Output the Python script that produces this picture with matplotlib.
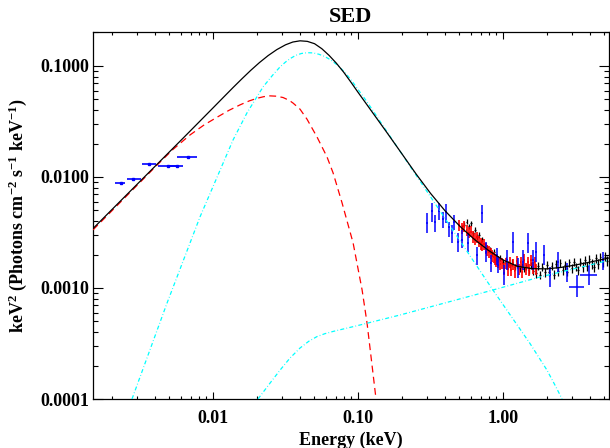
import matplotlib
matplotlib.use("Agg")
import matplotlib.pyplot as plt
from matplotlib.ticker import FixedLocator, FixedFormatter, NullFormatter, LogLocator

# ---------------- data ----------------
# total model (energy keV, E^2 F)
tot_e = [0.001486, 0.002512, 0.003981, 0.006310, 0.01000, 0.011749, 0.013740, 0.015849,
         0.018197, 0.020893, 0.023988, 0.027542, 0.031623, 0.035481, 0.039811, 0.044668,
         0.050119, 0.056234, 0.063096, 0.070795, 0.079433, 0.089125, 0.1000, 0.125893,
         0.158489, 0.199526, 0.251189, 0.316228, 0.398107, 0.504661, 0.630957, 0.794328,
         1.0, 1.258925, 1.584893, 1.995262, 2.511886, 3.162278, 3.981072, 5.382698]
tot_f = [0.003428, 0.006823, 0.012474, 0.022803, 0.041879, 0.051880, 0.063826, 0.076736,
         0.091201, 0.107152, 0.123880, 0.140281, 0.154882, 0.164059, 0.168267, 0.166341,
         0.158489, 0.142889, 0.124451, 0.105925, 0.088105, 0.071614, 0.057810, 0.038019,
         0.025003, 0.016331, 0.010641, 0.007112, 0.004955, 0.003589, 0.002754, 0.002178,
         0.001786, 0.001567, 0.001493, 0.001486, 0.001531, 0.001611, 0.001710, 0.001862]

# red dashed component
bb_e = [0.001486, 0.002286, 0.003141, 0.004111, 0.005297, 0.006934, 0.008710, 0.010666,
        0.012882, 0.015346, 0.017783, 0.020091, 0.022387, 0.024717, 0.027542, 0.030409,
        0.033497, 0.035645, 0.039811, 0.044463, 0.052119, 0.061094, 0.067298, 0.077625,
        0.092470, 0.106660, 0.115345, 0.133045]
bb_f = [0.003334, 0.005888, 0.008954, 0.012794, 0.017701, 0.023878, 0.029512, 0.034514,
        0.039811, 0.044566, 0.048417, 0.051050, 0.052845, 0.053703, 0.053333, 0.051880,
        0.048978, 0.046238, 0.040738, 0.033113, 0.022909, 0.015136, 0.010864, 0.005821,
        0.002541, 0.000959, 0.000484, 0.000100]

# cyan dash-dot thermal component
disk_e = [0.002761, 0.004819, 0.008128, 0.013740, 0.017140, 0.022131, 0.025704, 0.028973,
          0.031623, 0.033963, 0.037154, 0.040738, 0.044668, 0.048978, 0.053703, 0.058884,
          0.064565, 0.070795, 0.075162, 0.083176, 0.091201, 0.098401, 0.112202, 0.125893,
          0.141906, 0.239332, 0.328852, 0.481948, 0.693426, 0.853168, 1.172195, 1.534617,
          2.009093, 2.290868, 2.553541]
disk_f = [0.000100, 0.000733, 0.004365, 0.021528, 0.037757, 0.064714, 0.082224, 0.097949,
          0.108393, 0.116145, 0.124451, 0.129420, 0.131522, 0.130918, 0.127350, 0.121619,
          0.113501, 0.103514, 0.096605, 0.084140, 0.072444, 0.063096, 0.049888, 0.040087,
          0.031623, 0.011402, 0.006138, 0.002911, 0.001429, 0.000955, 0.000525, 0.000316,
          0.000182, 0.000132, 0.000100]

# cyan dash-dot power-law component
pl_e = [0.020417, 0.024717, 0.028973, 0.033963, 0.039811, 0.045709, 0.052119, 0.058884,
        0.067298, 0.098401, 0.194984, 0.314050, 0.853168, 1.798871, 3.981072, 5.470159]
pl_f = [0.000100, 0.000139, 0.000182, 0.000234, 0.000288, 0.000331, 0.000365, 0.000387,
        0.000406, 0.000457, 0.000571, 0.000675, 0.000959, 0.001256, 0.001611, 0.001786]

# UV points (blue, horizontal bars)
uv_e = [0.00231, 0.00282, 0.00364, 0.00492, 0.00562, 0.00673]
uv_lo = [0.00211, 0.00254, 0.00322, 0.00420, 0.00490, 0.00562]
uv_hi = [0.00247, 0.00316, 0.00405, 0.00574, 0.00621, 0.00773]
uv_f = [0.00888, 0.00959, 0.01297, 0.01244, 0.01256, 0.01524]

# X-ray points (blue)
xrt_e = [0.298, 0.322, 0.340, 0.364, 0.384, 0.403, 0.426, 0.447, 0.461, 0.492, 0.519, 0.576,
         0.665, 0.713, 0.764, 0.823, 0.905, 0.929, 1.02, 1.06, 1.18, 1.26, 1.37, 1.49, 1.60,
         1.69, 1.93, 2.11, 2.41, 2.75, 3.22, 3.92, 4.92]
xrt_ew = [0.005, 0.005, 0.006, 0.006, 0.006, 0.007, 0.007, 0.007, 0.008, 0.008, 0.008, 0.009,
          0.011, 0.011, 0.012, 0.013, 0.014, 0.015, 0.016, 0.017, 0.019, 0.020, 0.022, 0.024,
          0.026, 0.027, 0.031, 0.034, 0.039, 0.044, 0.38, 0.50, 0.08]
xrt_f = [0.00383, 0.00497, 0.00391, 0.00497, 0.00416, 0.00487, 0.00352, 0.00311, 0.00395,
         0.00261, 0.00270, 0.00253, 0.00198, 0.00471, 0.00212, 0.00167, 0.00198, 0.00161,
         0.00135, 0.00179, 0.00261, 0.00156, 0.00173, 0.00253, 0.00179, 0.00212, 0.00198,
         0.00131, 0.00173, 0.00140, 0.00103, 0.00132, 0.00177]
xrt_lo = [0.00311, 0.00395, 0.00321, 0.00410, 0.00345, 0.00383, 0.00290, 0.00253, 0.00333,
          0.00212, 0.00228, 0.00212, 0.00161, 0.00383, 0.00173, 0.00140, 0.00161, 0.00135,
          0.00106, 0.00145, 0.00205, 0.00122, 0.00145, 0.00205, 0.00145, 0.00173, 0.00161,
          0.00103, 0.00140, 0.00114, 0.000836, 0.00106, 0.00145]
xrt_hi = [0.00471, 0.00586, 0.00455, 0.00579, 0.00487, 0.00571, 0.00395, 0.00370, 0.00455,
          0.00311, 0.00333, 0.00311, 0.00235, 0.00560, 0.00261, 0.00198, 0.00228, 0.00191,
          0.00161, 0.00220, 0.00321, 0.00185, 0.00220, 0.00311, 0.00220, 0.00261, 0.00244,
          0.00156, 0.00212, 0.00167, 0.00131, 0.00160, 0.00211]

# dense black data
blk_e = [0.52, 0.54, 0.56, 0.58, 0.60, 0.62, 0.64, 0.66, 0.68, 0.70,
         0.72, 0.75, 0.78, 0.81, 0.84, 0.87, 0.90, 0.93, 0.96, 1.00,
         1.04, 1.08, 1.12, 1.16, 1.20, 1.25, 1.30, 1.35, 1.40, 1.45,
         1.50, 1.56, 1.62, 1.68, 1.74, 1.80, 1.87, 1.94, 2.01, 2.08,
         2.16, 2.24, 2.32, 2.40, 2.49, 2.58, 2.67, 2.77, 2.87, 2.97,
         3.08, 3.19, 3.30, 3.42, 3.54, 3.67, 3.80, 3.94, 4.08, 4.22,
         4.37, 4.53, 4.69, 4.86, 5.03, 5.21]
blk_f = [0.00350, 0.00372, 0.00395, 0.00360, 0.00382, 0.00310, 0.00335, 0.00290, 0.00300, 0.00262,
         0.00275, 0.00240, 0.00232, 0.00220, 0.00205, 0.00212, 0.00190, 0.00182, 0.00188, 0.00170,
         0.00178, 0.00165, 0.00160, 0.00170, 0.00155, 0.00162, 0.00150, 0.00158, 0.00148, 0.00155,
         0.00145, 0.00160, 0.00142, 0.00135, 0.00158, 0.00132, 0.00155, 0.00138, 0.00162, 0.00140,
         0.00158, 0.00132, 0.00165, 0.00142, 0.00168, 0.00145, 0.00160, 0.00140, 0.00170, 0.00150,
         0.00172, 0.00155, 0.00145, 0.00172, 0.00155, 0.00178, 0.00158, 0.00182, 0.00165, 0.00155,
         0.00185, 0.00165, 0.00190, 0.00170, 0.00192, 0.00175]
blk_err = [0.00020, 0.00021, 0.00022, 0.00020, 0.00021, 0.00018, 0.00019, 0.00017, 0.00017, 0.00015,
           0.00015, 0.00014, 0.00014, 0.00013, 0.00012, 0.00013, 0.00012, 0.00011, 0.00012, 0.00011,
           0.00011, 0.00010, 0.00010, 0.00011, 0.00010, 0.00010, 0.00010, 0.00011, 0.00010, 0.00011,
           0.00011, 0.00012, 0.00011, 0.00012, 0.00012, 0.00011, 0.00012, 0.00012, 0.00013, 0.00012,
           0.00013, 0.00012, 0.00013, 0.00013, 0.00014, 0.00013, 0.00014, 0.00013, 0.00014, 0.00014,
           0.00015, 0.00014, 0.00014, 0.00015, 0.00015, 0.00016, 0.00015, 0.00016, 0.00016, 0.00015,
           0.00017, 0.00016, 0.00017, 0.00017, 0.00018, 0.00018]

# dense red data
red_e = [0.50, 0.52, 0.54, 0.56, 0.58, 0.60, 0.62, 0.64, 0.66, 0.68,
         0.70, 0.72, 0.74, 0.76, 0.78, 0.80, 0.82, 0.84, 0.86, 0.88,
         0.90, 0.93, 0.96, 0.99, 1.02, 1.05, 1.08, 1.11, 1.14, 1.17,
         1.20, 1.24, 1.28, 1.32, 1.36, 1.40, 1.44, 1.48, 1.52, 1.56,
         1.60, 1.65, 1.70]
red_f = [0.00370, 0.00345, 0.00360, 0.00330, 0.00315, 0.00322, 0.00290, 0.00278, 0.00285, 0.00262,
         0.00250, 0.00242, 0.00248, 0.00228, 0.00220, 0.00212, 0.00205, 0.00195, 0.00190, 0.00182,
         0.00176, 0.00172, 0.00165, 0.00168, 0.00150, 0.00168, 0.00148, 0.00172, 0.00145, 0.00165,
         0.00142, 0.00175, 0.00148, 0.00170, 0.00140, 0.00180, 0.00150, 0.00172, 0.00145, 0.00178,
         0.00152, 0.00170, 0.00148]
red_err = [0.00042, 0.00040, 0.00041, 0.00038, 0.00036, 0.00036, 0.00034, 0.00032, 0.00032, 0.00030,
           0.00029, 0.00028, 0.00029, 0.00026, 0.00025, 0.00025, 0.00024, 0.00023, 0.00022, 0.00022,
           0.00021, 0.00021, 0.00020, 0.00020, 0.00019, 0.00020, 0.00019, 0.00020, 0.00018, 0.00019,
           0.00018, 0.00020, 0.00018, 0.00020, 0.00018, 0.00021, 0.00018, 0.00020, 0.00018, 0.00021,
           0.00018, 0.00020, 0.00018]

x_major = [0.01, 0.1, 1.0]
x_labels = ["0.01", "0.10", "1.00"]
y_major = [0.0001, 0.001, 0.01, 0.1]
y_labels = ["0.0001", "0.0010", "0.0100", "0.1000"]

# ---------------- plot ----------------
plt.rcParams["font.family"] = ["Liberation Serif", "DejaVu Serif"]
plt.rcParams["font.weight"] = "bold"
plt.rcParams["mathtext.fontset"] = "custom"
plt.rcParams["mathtext.rm"] = "Liberation Serif:bold"
plt.rcParams["mathtext.it"] = "Liberation Serif:bold"
plt.rcParams["mathtext.bf"] = "Liberation Serif:bold"

fig = plt.figure(figsize=(6.1, 4.48), dpi=100)
ax = fig.add_axes([93 / 610, 1 - 399 / 448, (609 - 93) / 610, (399 - 32) / 448])
ax.set_xscale("log")
ax.set_yscale("log")

# data
ax.errorbar(blk_e, blk_f, yerr=blk_err, xerr=[e * 0.013 for e in blk_e], fmt="none",
            ecolor="black", elinewidth=0.9, zorder=2)
ax.errorbar(red_e, red_f, yerr=red_err, xerr=[e * 0.014 for e in red_e], fmt="none",
            ecolor="#ff0000", elinewidth=1.2, zorder=3)
xrt_yerr = [[f - lo for f, lo in zip(xrt_f, xrt_lo)], [hi - f for f, hi in zip(xrt_f, xrt_hi)]]
ax.errorbar(xrt_e, xrt_f, yerr=xrt_yerr, xerr=xrt_ew, fmt="none", ecolor="#0000ff",
            elinewidth=1.1, zorder=4)
uv_xerr = [[e - lo for e, lo in zip(uv_e, uv_lo)], [hi - e for e, hi in zip(uv_e, uv_hi)]]
ax.errorbar(uv_e, uv_f, xerr=uv_xerr, fmt="s", color="#0000ff", ms=2, elinewidth=1.2, zorder=4)

# models
dashdot = (0, (3.2, 1.8, 0.6, 1.8))
ax.plot(bb_e, bb_f, color="#ff0000", lw=0.9, ls=(0, (5.5, 3.5)), zorder=5)
ax.plot(disk_e, disk_f, color="#00ffff", lw=0.9, ls=dashdot, zorder=5)
ax.plot(pl_e, pl_f, color="#00ffff", lw=0.9, ls=dashdot, zorder=5)
ax.plot(tot_e, tot_f, color="black", lw=0.9, zorder=6)

ax.set_xlim(0.001486, 5.38)
ax.set_ylim(0.0001, 0.202)

ax.xaxis.set_major_locator(FixedLocator(x_major))
ax.xaxis.set_major_formatter(FixedFormatter(x_labels))
ax.xaxis.set_minor_locator(LogLocator(base=10, subs=range(2, 10)))
ax.xaxis.set_minor_formatter(NullFormatter())
ax.yaxis.set_major_locator(FixedLocator(y_major))
ax.yaxis.set_major_formatter(FixedFormatter(y_labels))
ax.yaxis.set_minor_locator(LogLocator(base=10, subs=range(2, 10)))
ax.yaxis.set_minor_formatter(NullFormatter())

ax.tick_params(axis="x", which="both", direction="in", top=True, bottom=True, width=0.8,
               labelsize=13, pad=8)
ax.tick_params(axis="x", which="major", length=5)
ax.tick_params(axis="x", which="minor", length=2.5)
ax.tick_params(axis="y", which="both", direction="in", left=True, right=True, width=0.8,
               labelsize=13, pad=3)
ax.tick_params(axis="y", which="major", length=7.2)
ax.tick_params(axis="y", which="minor", length=3.6)
for lab in ax.get_xticklabels() + ax.get_yticklabels():
    lab.set_fontweight("bold")
for sp in ax.spines.values():
    sp.set_linewidth(0.9)

ax.set_title("SED", fontsize=16, fontweight="bold", pad=7)
ax.set_xlabel("Energy (keV)", fontsize=13, fontweight="bold", labelpad=3)
ax.set_ylabel("keV$^2$ (Photons cm$^{-2}$ s$^{-1}$ keV$^{-1}$)", fontsize=13,
              fontweight="bold", labelpad=8)

fig.savefig("out.png", dpi=100)
